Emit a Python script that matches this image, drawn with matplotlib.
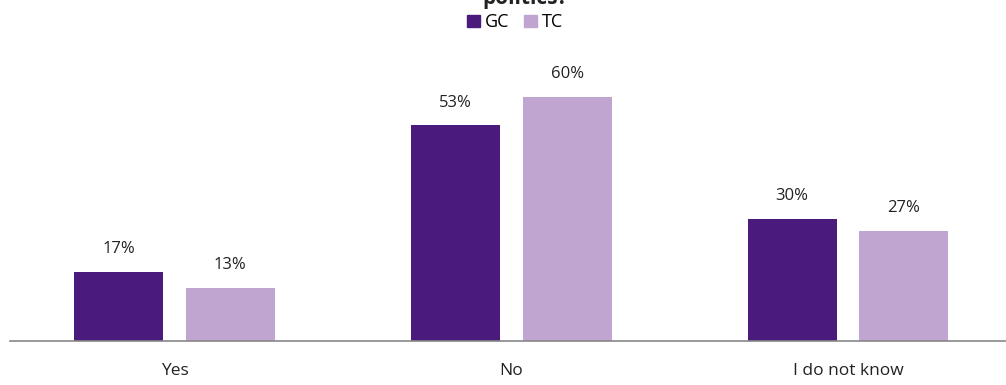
import numpy as np
import matplotlib.pyplot as plt
from matplotlib.patches import Patch

categories = ['Yes', 'No', 'I do not know']
gc_values = [17, 53, 30]
tc_values = [13, 60, 27]

gc_color = '#4a1a7c'
tc_color = '#c1a5d1'

plt.rcParams['font.family'] = ['Open Sans', 'DejaVu Sans']

fig = plt.figure(figsize=(10.06, 3.85), dpi=100)
ax = fig.add_axes([0.01, 0.1143, 0.99, 0.74])

x = np.arange(len(categories))
width = 0.264
offset = 0.166

bars_gc = ax.bar(x - offset, gc_values, width, color=gc_color)
bars_tc = ax.bar(x + offset, tc_values, width, color=tc_color)

for bars, vals in [(bars_gc, gc_values), (bars_tc, tc_values)]:
    for b, v in zip(bars, vals):
        ax.text(b.get_x() + b.get_width() / 2, v + 3.6, f'{v}%',
                ha='center', va='bottom', fontsize=12, color='#222222')

ax.set_xlim(-0.488, 2.469)
ax.set_ylim(0, 70)
ax.set_xticks(x)
ax.set_xticklabels(categories, fontsize=12.5, color='#222222')
ax.tick_params(axis='x', length=0, pad=16)
ax.set_yticks([])
for s in ['top', 'right', 'left']:
    ax.spines[s].set_visible(False)
ax.spines['bottom'].set_color('#888888')
ax.spines['bottom'].set_linewidth(1.2)

# question title, last line only shows at the top edge
fig.text(0.522, 0.99, 'politics?', ha='center', va='baseline',
         fontsize=15, fontweight='bold', color='#222222')

handles = [Patch(color=gc_color, label='GC'), Patch(color=tc_color, label='TC')]
fig.legend(handles=handles, loc='upper center', bbox_to_anchor=(0.512, 0.965),
           ncol=2, frameon=False, fontsize=13, handlelength=0.7,
           handleheight=0.7, handletextpad=0.3, columnspacing=0.8,
           borderaxespad=0, borderpad=0)

fig.savefig('out.png', dpi=100)
